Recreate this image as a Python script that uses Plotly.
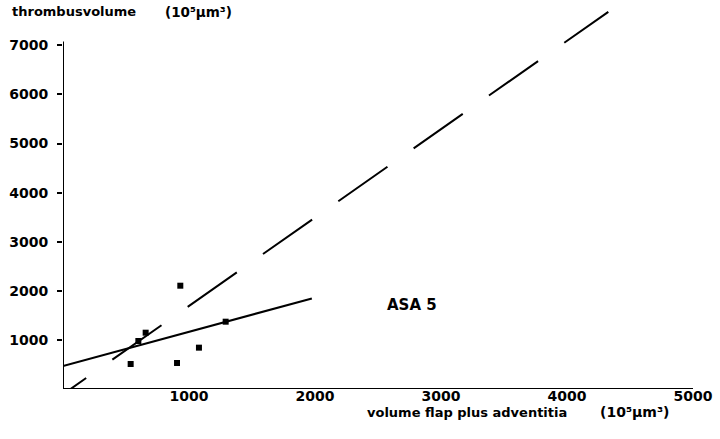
import numpy as np
import plotly.graph_objects as go

# Data points (10^5 µm^3)
flap_volume = [537, 598, 656, 931, 905, 1079, 1291]
thrombus_volume = [509, 978, 1147, 2104, 530, 842, 1371]

# Regression line (solid): intercept, slope, x-extent
solid_intercept = 468
solid_slope = 0.697
solid_x = [0, 1975]

# Dashed line: intercept, slope, x-extent
dashed_intercept = -108
dashed_slope = 1.80
dashed_x = [-206, 4328]

x_ticks = [1000, 2000, 3000, 4000, 5000]
y_ticks = [1000, 2000, 3000, 4000, 5000, 6000, 7000]

FONT = "DejaVu Sans"
L, T_AX, W, H = 63, 389, 630, 389  # plot area pixel geometry


def px(xp, yp):
    return (xp - L) / W, (T_AX - yp) / H


sx = np.array(solid_x, dtype=float)
dx = np.array(dashed_x, dtype=float)

fig = go.Figure()
fig.add_trace(go.Scatter(x=dx, y=dashed_intercept + dashed_slope * dx, mode="lines",
                         line=dict(color="black", width=2, dash="60px,32px"),
                         showlegend=False, hoverinfo="skip"))
fig.add_trace(go.Scatter(x=sx, y=solid_intercept + solid_slope * sx, mode="lines",
                         line=dict(color="black", width=2),
                         showlegend=False, hoverinfo="skip"))
fig.add_trace(go.Scatter(x=flap_volume, y=thrombus_volume, mode="markers",
                         marker=dict(symbol="square", size=6, color="black"),
                         showlegend=False))

# axis lines
fig.add_shape(type="line", x0=0, y0=0, x1=0, y1=7080, xref="x", yref="y",
              line=dict(color="black", width=2))
fig.add_shape(type="line", x0=0, y0=0, x1=5000, y1=0, xref="x", yref="y",
              line=dict(color="black", width=2))

fig.add_annotation(x=2770, y=1711, xref="x", yref="y", text="<b>ASA 5</b>",
                   showarrow=False, font=dict(family=FONT, size=15, color="black"))

texts = [
    ("<b>thrombusvolume</b>", 10, 12, 13),
    ("<b>(10⁵µm³)</b>", 163, 12, 13.5),
    ("<b>volume flap plus adventitia</b>", 365, 412, 13),
    ("<b>(10⁵µm³)</b>", 598, 412, 14),
]
for t, xp, yp, fs in texts:
    ax, ay = px(xp, yp)
    fig.add_annotation(x=ax, y=ay, xref="paper", yref="paper", text=t,
                       xanchor="left", yanchor="middle", showarrow=False,
                       font=dict(family=FONT, size=fs, color="black"))

fig.update_layout(
    width=720, height=439,
    margin=dict(l=63, r=27, t=0, b=50),
    paper_bgcolor="white", plot_bgcolor="white",
    font=dict(family=FONT, size=14, color="black"),
    xaxis=dict(range=[0, 5000], showgrid=False, zeroline=False, showline=False,
               tickvals=x_ticks, ticktext=[f"<b>{v}</b>" for v in x_ticks],
               ticks="", ticklen=0, ticklabelstandoff=-3, automargin=False),
    yaxis=dict(range=[0, 7923], showgrid=False, zeroline=False, showline=False,
               tickvals=y_ticks, ticktext=[f"<b>{v}</b>" for v in y_ticks],
               ticks="outside", ticklen=5, tickwidth=2, tickcolor="black",
               ticklabelstandoff=6, automargin=False),
)

fig.write_html("out.html", config={"displayModeBar": False},
               post_script="document.body.style.margin='0';")
